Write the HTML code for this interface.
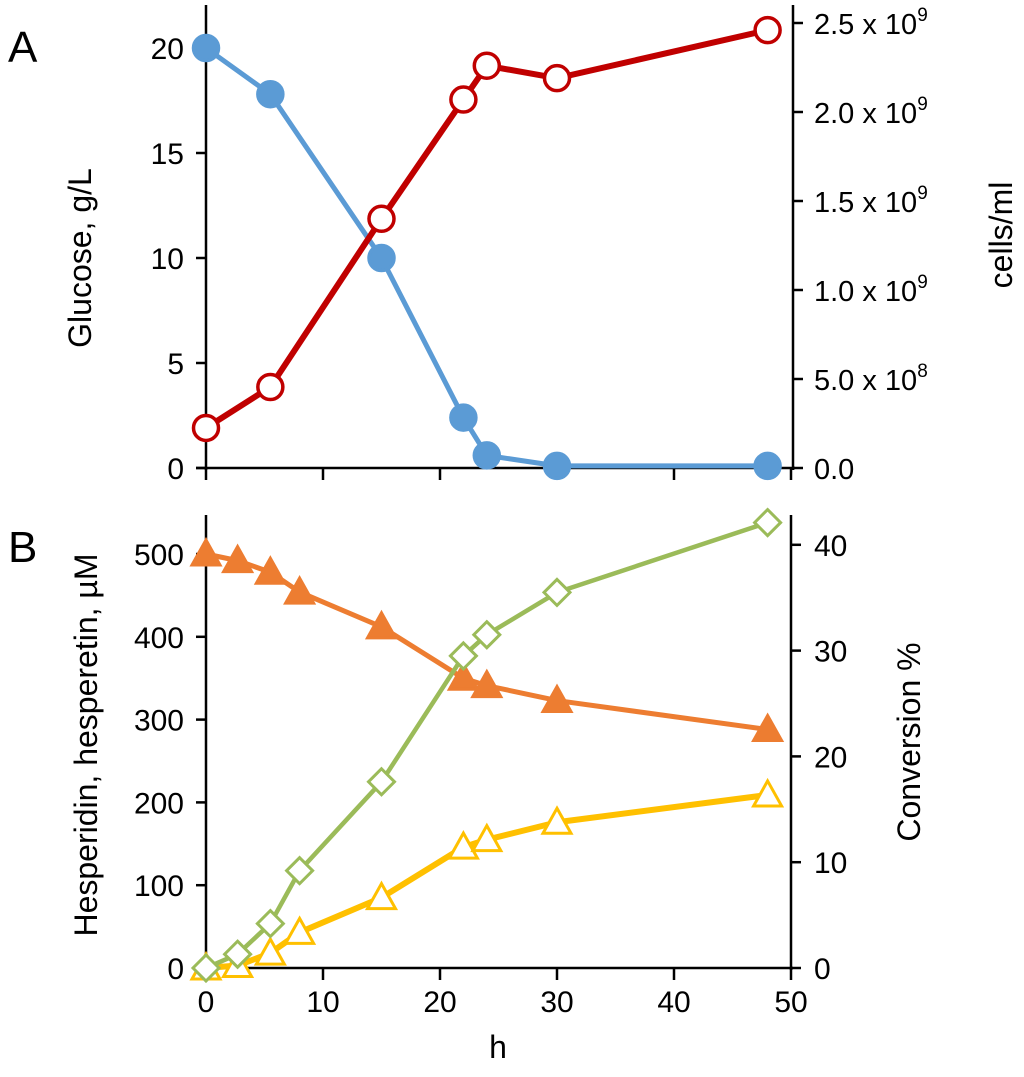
<!DOCTYPE html>
<html><head><meta charset="utf-8"><style>
html,body{margin:0;padding:0;background:#fff;}
svg{display:block;font-family:"Liberation Sans",sans-serif;}
</style></head><body>
<svg id="chart" width="1024" height="1077" viewBox="0 0 1024 1077" xmlns="http://www.w3.org/2000/svg"></svg>
<script>
const hoursA = [0, 5.5, 15, 22, 24, 30, 48];
const glucose = [20, 17.8, 10, 2.4, 0.6, 0.1, 0.1];
const cells = [0.225, 0.455, 1.40, 2.07, 2.26, 2.19, 2.46]; // x 10^9
const hoursB = [0, 2.7, 5.5, 8, 15, 22, 24, 30, 48];
const hesperidin = [500, 492, 478, 454, 412, 350, 341, 323, 288];
const hesperetin = [0, 3, 18, 43, 85, 146, 155, 176, 209];
const conversion = [0, 1.3, 4.2, 9.2, 17.6, 29.5, 31.5, 35.5, 42.1];
const xTicks = [0, 10, 20, 30, 40, 50];
const glucoseTicks = [0, 5, 10, 15, 20];
const cellTicks = [0, 0.5, 1.0, 1.5, 2.0, 2.5];
const cellTickLabels = ["0.0", "5.0 x 10", "1.0 x 10", "1.5 x 10", "2.0 x 10", "2.5 x 10"];
const cellTickExp = ["", "8", "9", "9", "9", "9"];
const bLeftTicks = [0, 100, 200, 300, 400, 500];
const bRightTicks = [0, 10, 20, 30, 40];

const svg = document.getElementById('chart');
const NS = 'http://www.w3.org/2000/svg';
function mk(tag, attrs, parent) {
  const e = document.createElementNS(NS, tag);
  for (const k in attrs) e.setAttribute(k, attrs[k]);
  (parent || svg).appendChild(e);
  return e;
}
const X0 = 206, X1 = 791;
const x = t => X0 + t * (X1 - X0) / 50;
const yA = v => 468 - v * 21;
const yAR = v => 468 - v * 178;
const yB = v => 968 - v * 0.828;
const yBR = v => 968 - v * 10.58;

function line(x1, y1, x2, y2, name) {
  const l = mk('line', {x1, y1, x2, y2, stroke: '#000', 'stroke-width': 2.5});
  
  
  return l;
}
function text(s, tx, ty, anchor, size, name) {
  const t = mk('text', {x: tx, y: ty, 'text-anchor': anchor, 'font-size': size, fill: '#000'});
  t.textContent = s;
  
  
  return t;
}

// Panel A axes
line(X0, 5, X0, 470, 'a-left-axis');
line(793, 5, 793, 470, 'a-right-axis');
line(X0 - 10, 468, 795, 468, 'a-x-axis');
xTicks.forEach(t => line(x(t), 468, x(t), 480, 'a-x-tick'));
glucoseTicks.forEach(v => {
  line(X0 - 10, yA(v), X0, yA(v), 'a-left-tick');
  text(String(v), 184, yA(v) + 11, 'end', 30, 'a-left-tick-label');
});
cellTicks.forEach((v, i) => {
  line(793, yAR(v), 803, yAR(v), 'a-right-tick');
  const t = text(cellTickLabels[i], 814, yAR(v) + 11, 'start', 29, 'a-right-tick-label');
  if (cellTickExp[i]) {
    const s = mk('tspan', {dy: -13, 'font-size': 19}, t);
    s.textContent = cellTickExp[i];
  }
});
let tl = text('Glucose, g/L', 0, 0, 'middle', 32, 'glucose-axis-title');
tl.setAttribute('transform', 'translate(91,258) rotate(-90)');
tl = text('cells/ml', 0, 0, 'middle', 32, 'cells-axis-title');
tl.setAttribute('transform', 'translate(1012,235) rotate(-90)');
text('A', 8, 62, 'start', 44, 'panel-a-label');

// Panel B axes
line(X0, 515, X0, 970, 'b-left-axis');
line(791, 515, 791, 970, 'b-right-axis');
line(X0 - 10, 968, 793, 968, 'b-x-axis');
xTicks.forEach(t => {
  line(x(t), 968, x(t), 980, 'b-x-tick');
  text(String(t), x(t), 1012, 'middle', 30, 'x-tick-label');
});
bLeftTicks.forEach(v => {
  line(X0 - 10, yB(v), X0, yB(v), 'b-left-tick');
  text(String(v), 184, yB(v) + 11, 'end', 30, 'b-left-tick-label');
});
bRightTicks.forEach(v => {
  line(791, yBR(v), 801, yBR(v), 'b-right-tick');
  text(String(v), 814, yBR(v) + 11, 'start', 30, 'b-right-tick-label');
});
text('h', 498, 1058, 'middle', 32, 'x-axis-title');
tl = text('Hesperidin, hesperetin, µM', 0, 0, 'middle', 32, 'hesperidin-axis-title');
tl.setAttribute('transform', 'translate(97,745) rotate(-90)');
tl = text('Conversion %', 0, 0, 'middle', 32, 'conversion-axis-title');
tl.setAttribute('transform', 'translate(920,742) rotate(-90)');
text('B', 8, 562, 'start', 44, 'panel-b-label');

function series(xs, ys, fy, color, w, marker, fill, name) {
  const g = mk('g', {});
  
  
  const pts = xs.map((t, i) => x(t) + ',' + fy(ys[i])).join(' ');
  const pl = mk('polyline', {points: pts, fill: 'none', stroke: color, 'stroke-width': w, 'stroke-linejoin': 'round'}, g);
  
  
  xs.forEach((t, i) => {
    const cx = x(t), cy = fy(ys[i]);
    let m;
    if (marker === 'circle') m = mk('circle', {cx, cy, r: 12.5, fill, stroke: color, 'stroke-width': 3.5}, g);
    else if (marker === 'tri') m = mk('polygon', {points: `${cx},${cy-14} ${cx+14},${cy+11} ${cx-14},${cy+11}`, fill, stroke: color, 'stroke-width': 3}, g);
    else m = mk('polygon', {points: `${cx},${cy-13} ${cx+13},${cy} ${cx},${cy+13} ${cx-13},${cy}`, fill, stroke: color, 'stroke-width': 3}, g);
    
    
  });
}
series(hoursA, glucose, yA, '#5b9bd5', 5, 'circle', '#5b9bd5', 'glucose-series');
series(hoursA, cells, yAR, '#c00000', 6, 'circle', '#fff', 'cells-series');
series(hoursB, hesperidin, yB, '#ed7d31', 5, 'tri', '#ed7d31', 'hesperidin-series');
series(hoursB, hesperetin, yB, '#ffc000', 6, 'tri', '#fff', 'hesperetin-series');
series(hoursB, conversion, yBR, '#9bbb59', 4.5, 'diamond', '#fff', 'conversion-series');
</script>
</body></html>
